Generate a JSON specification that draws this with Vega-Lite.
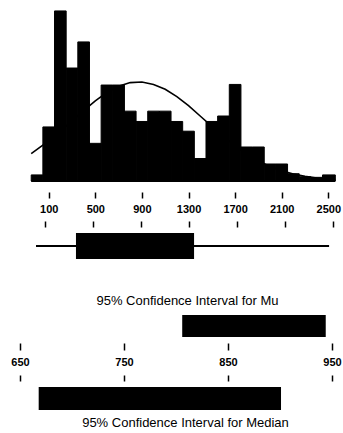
{
  "$schema": "https://vega.github.io/schema/vega-lite/v6.json",
  "padding": 0,
  "bounds": "flush",
  "spacing": 52,
  "config": {"view": {"stroke": null}, "font": "Liberation Sans", "axis": {"grid": false, "domain": false, "tickColor": "black", "tickWidth": 1.5, "labelColor": "black", "labelFont": "Liberation Sans", "labelFontSize": 11, "labelFontWeight": "bold", "title": null}},
  "datasets": {
    "hist": [
      {"start": -50, "end": 50, "count": 1},
      {"start": 50, "end": 150, "count": 8.9},
      {"start": 150, "end": 250, "count": 28},
      {"start": 250, "end": 350, "count": 18.6},
      {"start": 350, "end": 450, "count": 22.9},
      {"start": 450, "end": 550, "count": 6.2},
      {"start": 550, "end": 650, "count": 15.8},
      {"start": 650, "end": 750, "count": 15.8},
      {"start": 750, "end": 850, "count": 11.5},
      {"start": 850, "end": 950, "count": 9.8},
      {"start": 950, "end": 1050, "count": 11.5},
      {"start": 1050, "end": 1150, "count": 11.5},
      {"start": 1150, "end": 1250, "count": 9.8},
      {"start": 1250, "end": 1350, "count": 8.2},
      {"start": 1350, "end": 1450, "count": 3.7},
      {"start": 1450, "end": 1550, "count": 9.8},
      {"start": 1550, "end": 1650, "count": 10.7},
      {"start": 1650, "end": 1750, "count": 15.9},
      {"start": 1750, "end": 1850, "count": 5.6},
      {"start": 1850, "end": 1950, "count": 5.6},
      {"start": 1950, "end": 2050, "count": 2.8},
      {"start": 2050, "end": 2150, "count": 2.8},
      {"start": 2150, "end": 2250, "count": 1.2},
      {"start": 2250, "end": 2350, "count": 0.7},
      {"start": 2350, "end": 2450, "count": 0.6},
      {"start": 2450, "end": 2560, "count": 1.0}
    ],
    "curve": [
      {"x": -50, "density": 4.5}, {"x": 0, "density": 5.2}, {"x": 100, "density": 6.6}, {"x": 200, "density": 8.2},
      {"x": 300, "density": 9.9}, {"x": 400, "density": 11.6}, {"x": 500, "density": 13.2}, {"x": 600, "density": 14.6},
      {"x": 700, "density": 15.6}, {"x": 800, "density": 16.2}, {"x": 900, "density": 16.3}, {"x": 1000, "density": 15.9},
      {"x": 1100, "density": 15.1}, {"x": 1200, "density": 13.9}, {"x": 1300, "density": 12.4}, {"x": 1400, "density": 10.7},
      {"x": 1500, "density": 9.0}, {"x": 1600, "density": 7.4}, {"x": 1700, "density": 5.8}, {"x": 1800, "density": 4.5},
      {"x": 1900, "density": 3.3}, {"x": 2000, "density": 2.4}, {"x": 2100, "density": 1.7}, {"x": 2200, "density": 1.15},
      {"x": 2300, "density": 0.76}, {"x": 2400, "density": 0.49}, {"x": 2500, "density": 0.3}, {"x": 2560, "density": 0.24}
    ],
    "box": [{"low": 25, "q1": 358, "q3": 1342, "high": 2467}],
    "ci": [{"mu_lo": 806, "mu_hi": 944, "med_lo": 668, "med_hi": 901}]
  },
  "vconcat": [
    {
      "width": 343,
      "height": 181,
      "layer": [
        {
          "data": {"name": "curve"},
          "mark": {"type": "line", "color": "black", "strokeWidth": 1.6},
          "encoding": {
            "x": {"field": "x", "type": "quantitative", "scale": {"domain": [-275, 2583], "nice": false, "zero": false},
                  "axis": {"values": [100, 500, 900, 1300, 1700, 2100, 2500], "format": "d", "orient": "bottom", "offset": 11, "tickSize": 6, "labelPadding": 5, "labelFlush": false, "labelOverlap": false}, "title": null},
            "y": {"field": "density", "type": "quantitative", "scale": {"domain": [0, 29.8], "nice": false}, "axis": null, "title": null}
          }
        },
        {
          "data": {"name": "hist"},
          "mark": {"type": "bar", "color": "black", "stroke": "black", "strokeWidth": 1, "orient": "vertical"},
          "encoding": {
            "x": {"field": "start", "type": "quantitative", "title": null},
            "x2": {"field": "end"},
            "y": {"field": "count", "type": "quantitative", "title": null},
            "y2": {"datum": 0}
          }
        },
        {
          "data": {"values": [{}]},
          "mark": {"type": "rule", "color": "black", "strokeWidth": 2},
          "encoding": {
            "x": {"datum": -50, "type": "quantitative"},
            "x2": {"datum": 2560},
            "y": {"datum": 0, "type": "quantitative"}
          }
        }
      ]
    },
    {
      "spacing": 56,
      "bounds": "flush",
      "vconcat": [
        {
          "width": 343,
          "height": 26,
          "data": {"name": "box"},
          "layer": [
            {
              "mark": {"type": "rule", "color": "black", "strokeWidth": 2},
              "encoding": {
                "x": {"field": "low", "type": "quantitative", "scale": {"domain": [-275, 2583], "nice": false, "zero": false},
                      "axis": {"values": [100, 500, 900, 1300, 1700, 2100, 2500], "orient": "top", "offset": 6, "tickSize": 6, "labels": false}, "title": null},
                "x2": {"field": "high"},
                "y": {"datum": 0.5, "type": "quantitative", "scale": {"domain": [0, 1], "nice": false}, "axis": null}
              }
            },
            {
              "mark": {"type": "bar", "color": "black"},
              "encoding": {
                "x": {"field": "q1", "type": "quantitative", "title": null},
                "x2": {"field": "q3"},
                "y": {"datum": 0, "type": "quantitative"},
                "y2": {"datum": 1}
              }
            }
          ]
        },
        {
          "spacing": 50,
          "bounds": "flush",
          "vconcat": [
            {
              "width": 343,
              "height": 22,
              "title": {"text": "95% Confidence Interval for Mu", "fontSize": 13, "fontWeight": "normal", "font": "Liberation Sans", "color": "black", "offset": 7, "dx": 16},
              "data": {"name": "ci"},
              "mark": {"type": "bar", "color": "black"},
              "encoding": {
                "x": {"field": "mu_lo", "type": "quantitative", "scale": {"domain": [630.8, 960.6], "nice": false, "zero": false},
                      "axis": {"values": [650, 750, 850, 950], "orient": "bottom", "offset": 6, "tickSize": 7, "labelPadding": 6, "labelFlush": false}, "title": null},
                "x2": {"field": "mu_hi"},
                "y": {"datum": 0, "type": "quantitative", "scale": {"domain": [0, 1], "nice": false}, "axis": null},
                "y2": {"datum": 1}
              }
            },
            {
              "width": 343,
              "height": 23,
              "title": {"text": "95% Confidence Interval for Median", "orient": "bottom", "fontSize": 13, "fontWeight": "normal", "font": "Liberation Sans", "color": "black", "offset": 7, "dx": 14},
              "data": {"name": "ci"},
              "mark": {"type": "bar", "color": "black"},
              "encoding": {
                "x": {"field": "med_lo", "type": "quantitative", "scale": {"domain": [630.8, 960.6], "nice": false, "zero": false},
                      "axis": {"values": [650, 750, 850, 950], "orient": "top", "offset": 6, "tickSize": 6, "labels": false}, "title": null},
                "x2": {"field": "med_hi"},
                "y": {"datum": 0, "type": "quantitative", "scale": {"domain": [0, 1], "nice": false}, "axis": null},
                "y2": {"datum": 1}
              }
            }
          ]
        }
      ]
    }
  ]
}
